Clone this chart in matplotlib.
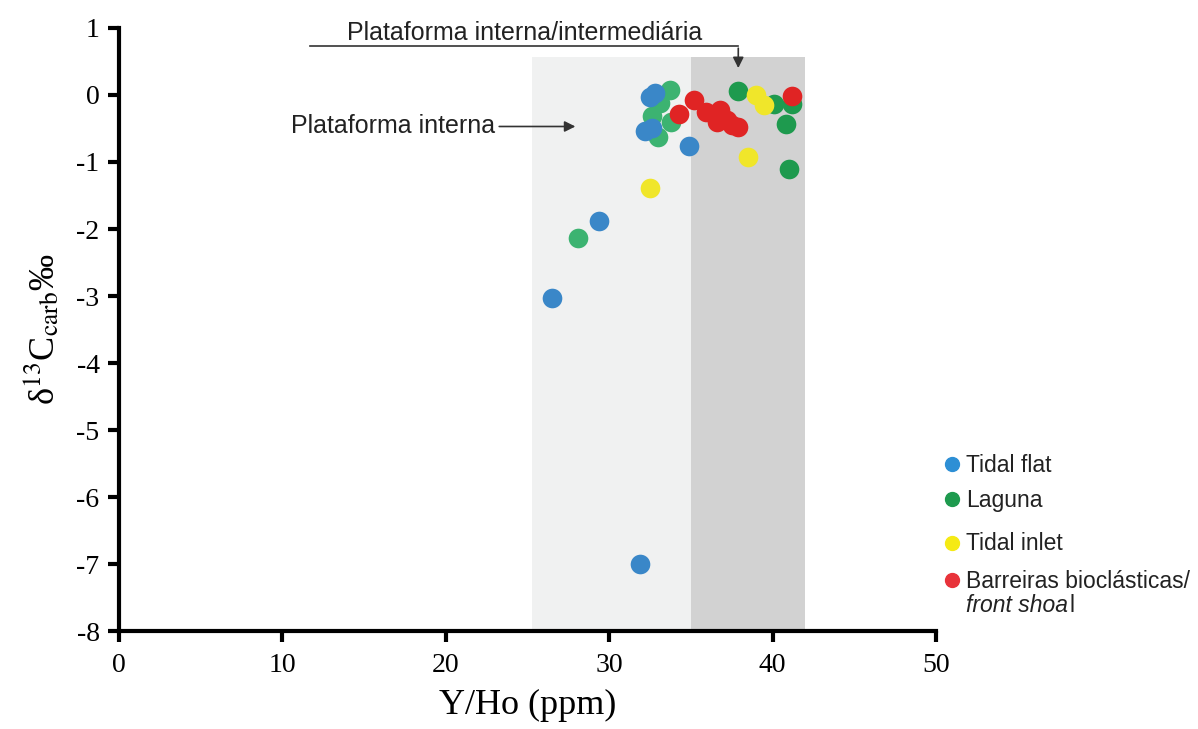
import matplotlib.pyplot as plt
from matplotlib.patches import Rectangle
from matplotlib.lines import Line2D

plt.rcParams['mathtext.fontset'] = 'stix'

# Y/Ho (ppm) vs d13C carb
tidal_flat_x = [26.5, 29.4, 31.9, 34.9, 32.8, 32.5, 32.6, 32.2]
tidal_flat_y = [-3.03, -1.88, -7.0, -0.76, 0.03, -0.03, -0.49, -0.53]

laguna_light_x = [28.1, 33.7, 32.6, 33.0, 33.8, 33.1]
laguna_light_y = [-2.13, 0.08, -0.32, -0.62, -0.4, -0.12]

laguna_x = [37.9, 40.1, 41.2, 40.8, 41.0]
laguna_y = [0.06, -0.13, -0.13, -0.44, -1.1]

inlet_x = [32.5, 38.5, 39.0, 39.5]
inlet_y = [-1.39, -0.93, 0.0, -0.15]

red_x = [34.3, 35.2, 35.9, 36.8, 36.6, 37.2, 37.9, 37.5, 41.2]
red_y = [-0.29, -0.07, -0.25, -0.22, -0.4, -0.37, -0.48, -0.45, -0.01]

zone_inner = (25.3, 35.0)
zone_mid = (35.0, 42.0)
zone_top = 0.57

fig = plt.figure(figsize=(11.98, 7.29), dpi=100)
ax = fig.add_axes([0.0993, 0.1344, 0.682, 0.8272])

ax.add_patch(Rectangle((zone_inner[0], -8), zone_inner[1] - zone_inner[0], zone_top + 8,
                       color='#f0f1f1', zorder=0, lw=0))
ax.add_patch(Rectangle((zone_mid[0], -8), zone_mid[1] - zone_mid[0], zone_top + 8,
                       color='#d2d2d2', zorder=0, lw=0))

ms = 200
ax.scatter(laguna_light_x, laguna_light_y, s=ms, color='#3cb371', zorder=3, lw=0)
ax.scatter(tidal_flat_x, tidal_flat_y, s=ms, color='#3a87c8', zorder=4, lw=0)
ax.scatter(laguna_x, laguna_y, s=ms, color='#1e9a4e', zorder=3, lw=0)
ax.scatter(inlet_x, inlet_y, s=ms, color='#f0e62a', zorder=4, lw=0)
ax.scatter(red_x, red_y, s=ms, color='#e02424', zorder=5, lw=0)

ax.set_xlim(0, 50)
ax.set_ylim(-8, 1)
ax.set_xticks(range(0, 51, 10))
ax.set_yticks(range(-8, 2))
ax.set_yticklabels(['-8', '-7', '-6', '-5', '-4', '-3', '-2', '-1', '0', '1'])
for s in ['top', 'right']:
    ax.spines[s].set_visible(False)
for s in ['left', 'bottom']:
    ax.spines[s].set_linewidth(3)
ax.tick_params(width=3, length=8, labelsize=20)
ax.tick_params(axis='x', pad=8)
ax.tick_params(axis='y', pad=6)
for lab in ax.get_xticklabels() + ax.get_yticklabels():
    lab.set_fontfamily('Liberation Serif')

ax.set_xlabel('Y/Ho (ppm)', fontsize=26, family='Liberation Serif', labelpad=8)
ax.set_ylabel('δ$^{13}$C$_{\\rm carb}$‰', fontsize=26, family='Liberation Serif', labelpad=10)

# annotations
ax.text(24.8, 0.92, 'Plataforma interna/intermediária', fontsize=18,
        family='Liberation Sans', ha='center', va='center', color='#222222')
ax.plot([11.7, 37.9], [0.73, 0.73], color='#333333', lw=1.2, clip_on=False)
ax.annotate('', xy=(37.9, 0.36), xytext=(37.9, 0.74),
            arrowprops=dict(arrowstyle='-|>', color='#333333', lw=1.2, mutation_scale=16),
            annotation_clip=False)
ax.text(23.0, -0.47, 'Plataforma interna', fontsize=18, family='Liberation Sans',
        ha='right', va='center', color='#222222')
ax.annotate('', xy=(28.1, -0.47), xytext=(23.1, -0.47),
            arrowprops=dict(arrowstyle='-|>', color='#333333', lw=1.2, mutation_scale=16))

# legend
leg_items = [('Tidal flat', '#2d8fd5', 465), ('Laguna', '#1e9a4e', 500),
             ('Tidal inlet', '#f5ea14', 544), ('Barreiras bioclásticas/', '#e8333a', 581)]
for label, col, py in leg_items:
    fig.text(966 / 1198, 1 - py / 729, label, fontsize=16.5, family='Liberation Sans',
             va='center', ha='left', color='#222222')
    fig.add_artist(Line2D([952 / 1198], [1 - (py - 1) / 729], marker='o', markersize=10,
                          color=col, transform=fig.transFigure))
t = fig.text(966 / 1198, 1 - 605 / 729, 'front shoa', fontsize=16.5, family='Liberation Sans',
             style='italic', va='center', ha='left', color='#222222')
ax.annotate('l', xy=(1, 0.5), xycoords=t, xytext=(1, 0), textcoords='offset points',
            fontsize=16.5, family='Liberation Sans', va='center', ha='left', color='#222222',
            annotation_clip=False)

fig.savefig('out.png', dpi=100)
